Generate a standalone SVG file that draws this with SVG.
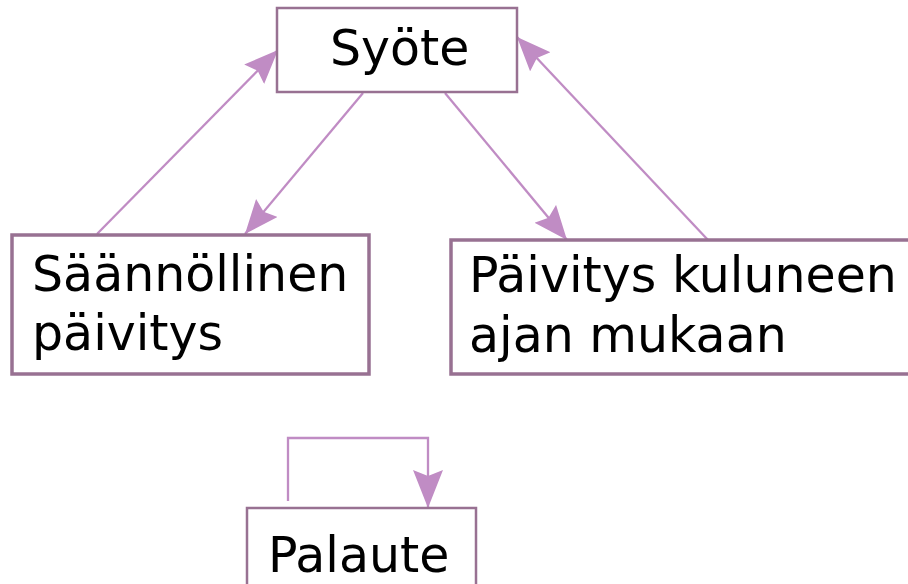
<svg xmlns="http://www.w3.org/2000/svg" width="908" height="584" viewBox="0 0 908 584">
<style>
.box{fill:#ffffff;stroke:#987192;stroke-width:3.5}
.lbl{font-family:"DejaVu Sans",sans-serif;font-size:49px;fill:#000000}
.edge{fill:none;stroke:#c08cc4;stroke-width:2.3}
</style>
<defs>
<marker id="ah" markerUnits="userSpaceOnUse" markerWidth="36" markerHeight="30" refX="34" refY="14" orient="auto">
<path d="M0,0 L34,14 L0,28 L5,14 z" fill="#c08cc4"/>
</marker>
<marker id="ahb" markerUnits="userSpaceOnUse" markerWidth="40" markerHeight="32" refX="38" refY="15" orient="auto">
<path d="M0,0 L38,15 L0,30 L6,15 z" fill="#c08cc4"/>
</marker>
</defs>
<rect width="908" height="584" fill="#ffffff"/>
<g id="connectors">
<line class="edge" x1="97" y1="234" x2="278" y2="50" marker-end="url(#ah)"/>
<line class="edge" x1="363" y1="93" x2="245" y2="234" marker-end="url(#ah)"/>
<line class="edge" x1="445" y1="93" x2="567" y2="240" marker-end="url(#ah)"/>
<line class="edge" x1="708" y1="240" x2="517" y2="37" marker-end="url(#ah)"/>
<path class="edge" d="M288,501 L288,438 L428,438 L428,508" marker-end="url(#ahb)"/>
</g>
<g id="node-syote">
<rect class="box" x="277" y="8" width="240" height="84" style="stroke-width:2.5"/>
<text class="lbl" x="330" y="65">Syöte</text>
</g>
<g id="node-saannollinen">
<rect class="box" x="12" y="235" width="357" height="139"/>
<text class="lbl" x="32" y="291">Säännöllinen</text>
<text class="lbl" x="32" y="350">päivitys</text>
</g>
<g id="node-paivitys">
<rect class="box" x="451" y="240" width="470" height="134"/>
<text class="lbl" x="469" y="292">Päivitys kuluneen</text>
<text class="lbl" x="469" y="352">ajan mukaan</text>
</g>
<g id="node-palaute">
<rect class="box" x="247" y="508" width="229" height="100" style="stroke-width:2.5"/>
<text class="lbl" x="268" y="572">Palaute</text>
</g>
</svg>
